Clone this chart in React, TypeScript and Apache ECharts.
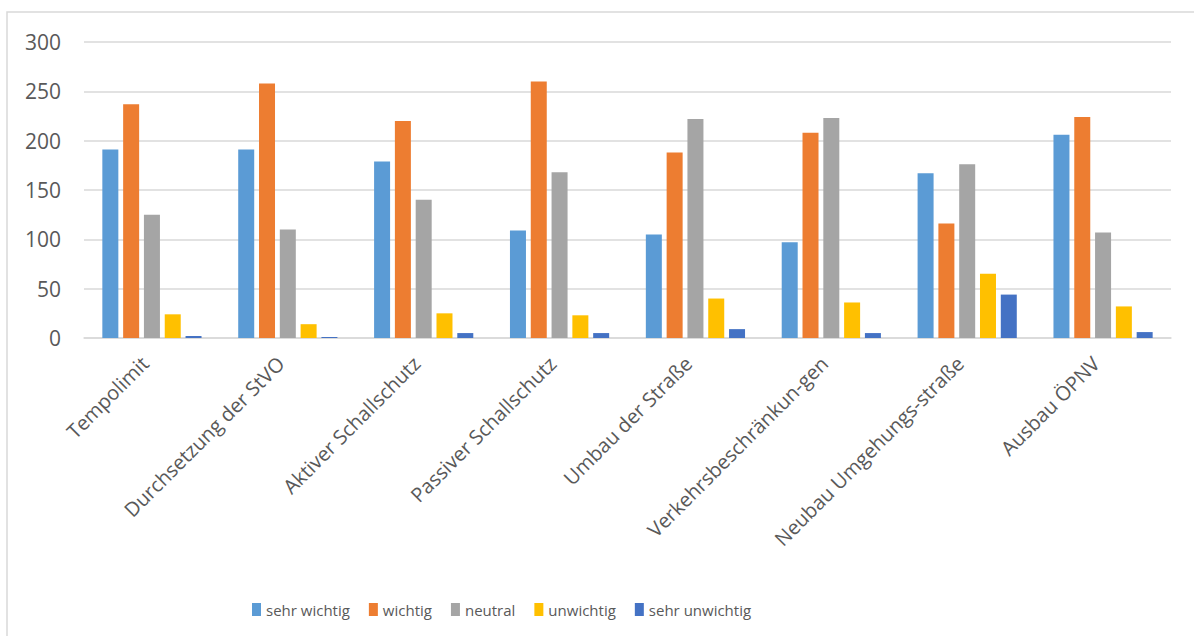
import React, { useEffect, useRef } from "react";
import * as echarts from "echarts";

const categories = [
  "Tempolimit",
  "Durchsetzung der StVO",
  "Aktiver Schallschutz",
  "Passiver Schallschutz",
  "Umbau der Straße",
  "Verkehrsbeschränkun-gen",
  "Neubau Umgehungs-straße",
  "Ausbau ÖPNV",
];

const seriesNames = ["sehr wichtig", "wichtig", "neutral", "unwichtig", "sehr unwichtig"];

const sehrWichtig = [191, 191, 179, 109, 105, 97, 167, 206];
const wichtig = [237, 258, 220, 260, 188, 208, 116, 224];
const neutral = [125, 110, 140, 168, 222, 223, 176, 107];
const unwichtig = [24, 14, 25, 23, 40, 36, 65, 32];
const sehrUnwichtig = [2, 1, 5, 5, 9, 5, 44, 6];

const colors = ["#5b9bd5", "#ed7d31", "#a5a5a5", "#ffc000", "#4472c4"];

const yTicks = { min: 0, max: 300, interval: 50 };

export default function App() {
  const ref = useRef<HTMLDivElement>(null);

  useEffect(() => {
    document.body.style.margin = "0";
    if (!ref.current) return;
    const chart = echarts.init(ref.current, undefined, { renderer: "svg" });
    const font = "'Open Sans', sans-serif";
    const allData = [sehrWichtig, wichtig, neutral, unwichtig, sehrUnwichtig];
    chart.setOption({
      animation: false,
      backgroundColor: "#ffffff",
      graphic: [
        {
          type: "rect",
          shape: { x: 7, y: 12, width: 1200, height: 640 },
          style: { fill: "none", stroke: "#d9d9d9", lineWidth: 1.5 },
          silent: true,
          z: -1,
        },
      ],
      grid: { left: 84, right: 23, top: 42, bottom: 298, containLabel: false },
      legend: {
        left: 247,
        top: 597,
        itemWidth: 9,
        itemHeight: 13,
        itemGap: 19,
        icon: "rect",
        data: seriesNames,
        textStyle: { fontFamily: font, fontSize: 15, color: "#595959" },
      },
      xAxis: {
        type: "category",
        data: categories,
        axisTick: { show: false },
        axisLine: { lineStyle: { color: "#d9d9d9", width: 1.5 } },
        axisLabel: {
          interval: 0,
          rotate: 45,
          margin: 29,
          align: "right",
          verticalAlign: "bottom",
          fontFamily: font,
          fontSize: 20,
          color: "#595959",
        },
      },
      yAxis: {
        type: "value",
        min: yTicks.min,
        max: yTicks.max,
        interval: yTicks.interval,
        axisLine: { show: false },
        axisTick: { show: false },
        splitLine: { lineStyle: { color: "#d9d9d9", width: 1.5 } },
        axisLabel: {
          margin: 23,
          fontFamily: font,
          fontSize: 21,
          color: "#595959",
        },
      },
      series: seriesNames.map((name, i) => ({
        name,
        type: "bar",
        data: allData[i],
        barWidth: 16,
        barGap: "30%",
        itemStyle: { color: colors[i] },
      })),
    });
    return () => chart.dispose();
  }, []);

  return (
    <div
      ref={ref}
      style={{ position: "absolute", left: 0, top: 0, width: 1194, height: 636 }}
    />
  );
}
